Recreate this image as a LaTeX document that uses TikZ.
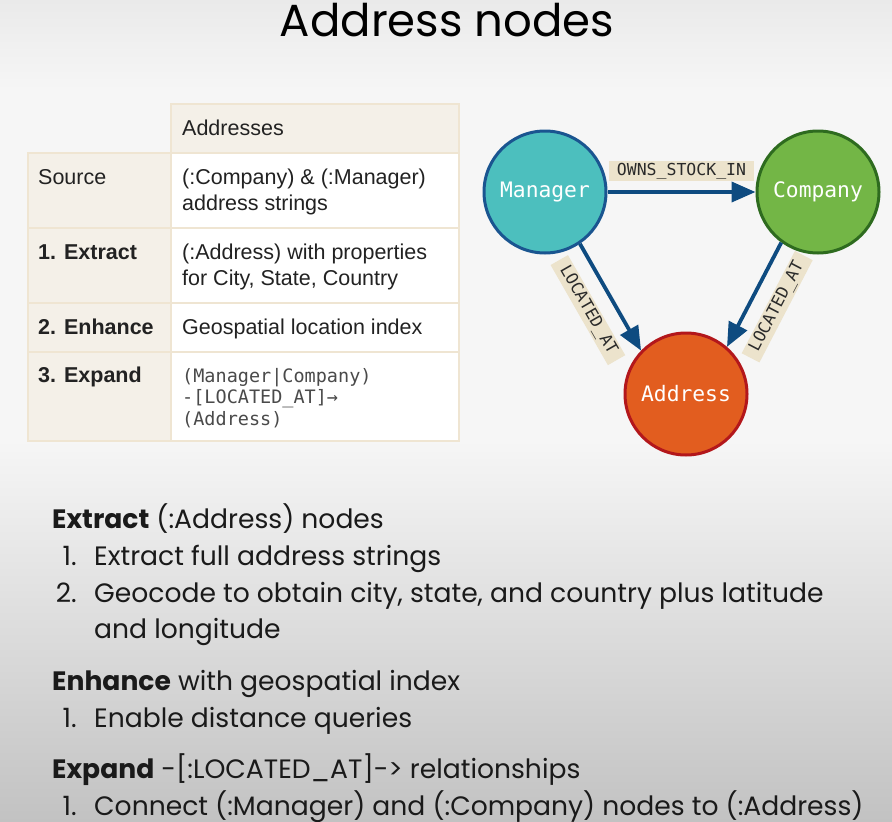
\documentclass[tikz,border=0pt]{standalone}
\usepackage{fontspec}
\setmainfont{Poppins}
\newfontfamily\tablefont{Liberation Sans}
\newfontfamily\codefont{DejaVu Sans Mono}
\usetikzlibrary{positioning,arrows.meta}
\definecolor{bgtop}{HTML}{EAEAEA}
\definecolor{bgmid}{HTML}{F6F6F6}
\definecolor{bgbot}{HTML}{C2C2C2}
\definecolor{keyfill}{HTML}{F4F0E8}
\definecolor{tblline}{HTML}{EFE5D2}
\definecolor{tbltext}{HTML}{222222}
\definecolor{codetext}{HTML}{4A4A4A}
\definecolor{mgrfill}{HTML}{4CBFBE}
\definecolor{mgrline}{HTML}{1A5590}
\definecolor{compfill}{HTML}{73B646}
\definecolor{compline}{HTML}{2E6B1F}
\definecolor{addrfill}{HTML}{E25D1F}
\definecolor{addrline}{HTML}{B3171B}
\definecolor{arrowblue}{HTML}{0E4B80}
\definecolor{relfill}{HTML}{ECE3CC}
\definecolor{reltext}{HTML}{2A2A2A}
\definecolor{bodytext}{HTML}{1A1A1A}

\begin{document}
\begin{tikzpicture}[x=1pt,y=-1pt,auto,
   cell/.style={draw=tblline,line width=1.5pt,anchor=north west,inner sep=0pt},
   keycell/.style={cell,fill=keyfill,minimum width=143pt},
   valcell/.style={cell,fill=white,minimum width=288pt},
   celltext/.style={anchor=base west,inner sep=0pt,align=left,text=tbltext,
     font=\tablefont\fontsize{21.5}{26}\selectfont},
   keytext/.style={celltext,font=\tablefont\bfseries\fontsize{21.5}{26}\selectfont},
   codetext/.style={celltext,text=codetext,font=\codefont\fontsize{18.5}{21.5}\selectfont},
   entity/.style={circle,minimum size=122pt,line width=3pt,inner sep=0pt,
     text=white,font=\codefont\fontsize{21.3}{25}\selectfont},
   rel/.style={fill=relfill,text=reltext,font=\codefont\fontsize{16.5}{20}\selectfont,
     inner xsep=8pt,inner ysep=0pt,minimum height=20pt,outer sep=11pt},
   slantrel/.style={rel,sloped,swap,outer sep=16pt},
   flow/.style={color=arrowblue,line width=3.8pt,-{Triangle[length=24pt,width=20pt]}},
   line/.style={anchor=base west,inner sep=0pt,text=bodytext,font=\fontsize{26.6}{36}\selectfont},
   num/.style={line,anchor=base east}]
   \useasboundingbox (0,0) rectangle (892,822);
   % background
   \shade[top color=bgtop,bottom color=bgmid] (0,0) rectangle (892,90);
   \fill[bgmid] (0,90) rectangle (892,440);
   \shade[top color=bgmid,bottom color=bgbot] (0,440) rectangle (892,822);

   \node[inner sep=0pt,anchor=base,font=\fontsize{45}{50}\selectfont,text=black] (title) at (447,36) {Address nodes};

   % table
   \node[valcell,fill=keyfill,minimum height=49pt] (hdr) at (170,103) {};
   \node[keycell,minimum height=75pt] (srck) at (27,152) {};
   \node[valcell,minimum height=75pt] (srcv) at (170,152) {};
   \node[keycell,minimum height=75pt] (extk) at (27,227) {};
   \node[valcell,minimum height=75pt] (extv) at (170,227) {};
   \node[keycell,minimum height=49pt] (enhk) at (27,302) {};
   \node[valcell,minimum height=49pt] (enhv) at (170,302) {};
   \node[keycell,minimum height=89pt] (expk) at (27,351) {};
   \node[valcell,minimum height=89pt] (expv) at (170,351) {};

   % multi-line cells sit on their last baseline
   \node[celltext] (hdrt) at (182,135) {Addresses};
   \node[celltext] (srckt) at (38,184) {Source};
   \node[celltext] (srcvt) at (182,210) {(:Company) \& (:Manager)\\address strings};
   \node[keytext] (extkt) at (38,259) {1. Extract};
   \node[celltext] (extvt) at (182,285) {(:Address) with properties\\for City, State, Country};
   \node[keytext] (enhkt) at (38,334) {2. Enhance};
   \node[celltext] (enhvt) at (182,334) {Geospatial location index};
   \node[keytext] (expkt) at (38,382) {3. Expand};
   \node[codetext] (expvt) at (182,425) {(Manager|Company)\\-[LOCATED\_AT]→\\(Address)};

   % graph
   \node[entity,fill=mgrfill,draw=mgrline] (mgr) at (545,192) {Manager};
   \node[entity,fill=compfill,draw=compline] (comp) at (818,192) {Company};
   \node[entity,fill=addrfill,draw=addrline] (addr) at (686,394) {Address};
   \path[flow]
   (mgr) edge node[rel] {OWNS\_STOCK\_IN} (comp)
   (mgr.-56) edge node[slantrel] {LOCATED\_AT} (addr.136)
   (comp.234) edge node[slantrel] {LOCATED\_AT} (addr.49);

   % notes
   \node[line] (ext) at (52,528) {\textbf{Extract} (:Address) nodes};
   \node[num] (ext1n) at (77,565) {1.};
   \node[line] (ext1) at (94,565) {Extract full address strings};
   \node[num] (ext2n) at (77,602) {2.};
   \node[line] (ext2) at (94,602) {Geocode to obtain city, state, and country plus latitude};
   \node[line] (ext2b) at (94,638) {and longitude};
   \node[line] (enh) at (52,690) {\textbf{Enhance} with geospatial index};
   \node[num] (enh1n) at (77,727) {1.};
   \node[line] (enh1) at (94,727) {Enable distance queries};
   \node[line] (exp) at (52,778) {\textbf{Expand} -[:LOCATED\_AT]-> relationships};
   \node[num] (exp1n) at (77,815) {1.};
   \node[line] (exp1) at (94,815) {Connect (:Manager) and (:Company) nodes to (:Address)};
\end{tikzpicture}
\end{document}
